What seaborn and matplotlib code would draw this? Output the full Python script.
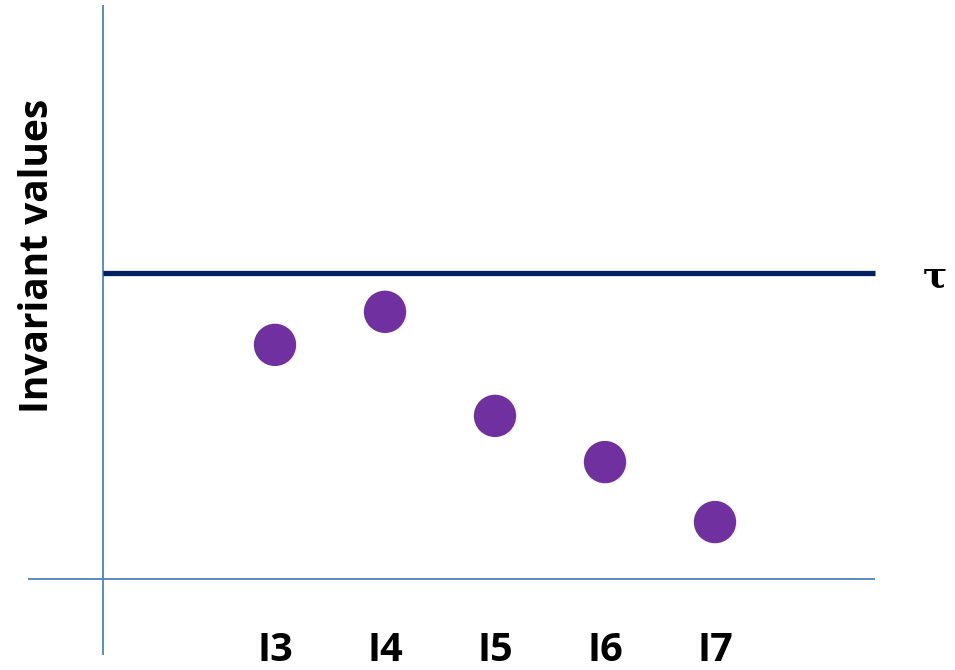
import matplotlib
matplotlib.use("Agg")
import matplotlib.pyplot as plt
import seaborn as sns
import pandas as pd

# Invariant values per candidate, with the threshold tau
categories = ["I3", "I4", "I5", "I6", "I7"]
values = [0.765, 0.873, 0.533, 0.382, 0.186]
tau = 1.0

df = pd.DataFrame({"candidate": categories, "value": values})

sns.set_theme(style="white")
plt.rcParams["font.family"] = ["Open Sans", "DejaVu Sans"]

fig = plt.figure(figsize=(9.55, 6.7), dpi=100)
ax = fig.add_axes([0, 0, 1, 1])

axis_blue = "#4F81BD"
navy = "#002060"
purple = "#7030A0"

# hand-drawn style axes crossing at the origin
ax.plot([-1.564, -1.564], [-0.248, 1.876], color=axis_blue, lw=1.3, solid_capstyle="butt")
ax.plot([-2.245, 5.455], [0, 0], color=axis_blue, lw=1.3, solid_capstyle="butt")

# threshold line
ax.plot([-1.564, 5.455], [tau, tau], color=navy, lw=3.8, solid_capstyle="butt")
ax.text(6.0, tau - 0.01, "τ", ha="center", va="center", fontsize=26,
        fontweight="bold", family=["DejaVu Serif"], color="black")

sns.scatterplot(data=df, x="candidate", y="value", color=purple, s=930,
                edgecolor="none", ax=ax, zorder=3)

for i, c in enumerate(categories):
    ax.text(i, -0.235, c, ha="center", va="center", fontsize=28.5,
            fontweight="bold", color="black")

ax.text(-2.16, 1.056, "Invariant values", rotation=90, ha="center", va="center",
        fontsize=28, fontweight="bold", color="black")

ax.set_xlim(-2.5, 6.1818)
ax.set_ylim(-0.2974, 1.892)
ax.set_axis_off()

fig.savefig("out.png", dpi=100)
